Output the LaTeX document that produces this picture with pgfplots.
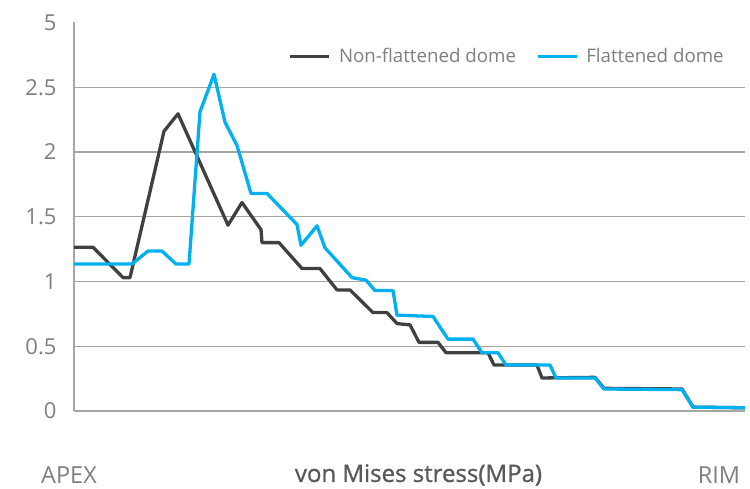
\documentclass[border=0pt]{standalone}
\usepackage{fontspec}
\setmainfont{Open Sans}
\usepackage{pgfplots}
\pgfplotsset{compat=1.18}
\definecolor{darkline}{HTML}{404040}
\definecolor{blueline}{HTML}{00B0F0}
\definecolor{txtgray}{HTML}{7F7F7F}
\definecolor{titlegray}{HTML}{595959}
\definecolor{gridgray}{HTML}{A6A6A6}
\pgfplotstableread{
x y
0 1.265
19 1.265
49 1.03
56 1.03
90 2.16
104 2.295
154 1.435
168 1.61
187 1.40
188 1.30
205 1.30
228 1.10
246 1.10
263 0.935
276 0.935
299 0.76
313 0.76
323 0.675
336 0.665
345 0.53
364 0.53
372 0.45
414 0.45
420 0.355
463 0.355
468 0.255
521 0.26
530 0.175
608 0.17
619 0.03
671 0.025
}\nonflat
\pgfplotstableread{
x y
0 1.135
58 1.135
74 1.235
88 1.235
102 1.135
115 1.135
126 2.31
140 2.60
151 2.23
163 2.05
177 1.68
193 1.68
223 1.44
227 1.28
243 1.43
251 1.26
278 1.03
292 1.01
301 0.93
319 0.93
323 0.74
359 0.73
374 0.555
399 0.555
408 0.45
424 0.45
432 0.355
476 0.355
482 0.255
521 0.255
530 0.17
608 0.165
619 0.03
671 0.025
}\flat
\begin{document}
\begin{tikzpicture}[x=1pt,y=1pt]
\useasboundingbox (0,0) rectangle (750,488);
\begin{axis}[
  at={(74pt,77pt)}, anchor=south west,
  scale only axis, width=671pt, height=388.5pt,
  xmin=0, xmax=671, ymin=0, ymax=3,
  axis x line=bottom, axis y line=left,
  axis line style={-, draw=gridgray, line width=1.3pt},
  xtick=\empty,
  ytick={0,0.5,1,1.5,2,2.5},
  yticklabels={0,0.5,1,1.5,2,2.5},
  extra y ticks={3}, extra y tick labels={5},
  extra y tick style={grid=none},
  ymajorgrids,
  major grid style={draw=gridgray, line width=1.3pt},
  major tick length=0pt,
  tick style={draw=none},
  yticklabel style={font=\fontsize{22}{22}\selectfont, text=txtgray, anchor=east, xshift=-14pt},
  legend style={draw=none, fill=none, at={(0.976,0.913)}, anchor=east,
    font=\fontsize{18.7}{18.7}\selectfont, text=txtgray,
    legend columns=-1,
    /tikz/every even column/.append style={column sep=18pt}},
  legend image code/.code={\draw[#1] (0pt,0pt) -- (39pt,0pt); \path (45pt,0pt);},
  clip=false,
]
\addplot[darkline, line width=3.3pt, line join=round] table {\nonflat};
\addlegendentry{Non-flattened dome}
\addplot[blueline, line width=3.3pt, line join=round] table {\flat};
\addlegendentry{Flattened dome}
\end{axis}
\node[inner sep=1pt, text=txtgray, font=\fontsize{23.5}{23.5}\selectfont] at (69,13) {APEX};
\node[inner sep=1pt, text=txtgray, font=\fontsize{23.5}{23.5}\selectfont] at (719,13) {RIM};
\node[inner sep=1pt, text=titlegray, font=\fontsize{24}{24}\selectfont\addfontfeature{FakeBold=1}] at (418.5,13) {von Mises stress(MPa)};
\end{tikzpicture}
\end{document}
